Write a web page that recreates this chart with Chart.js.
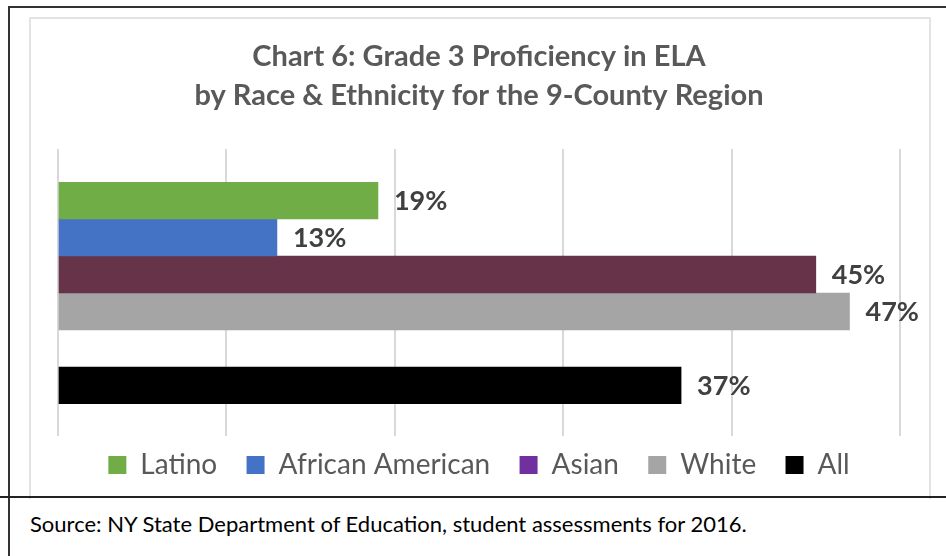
<!DOCTYPE html>
<html>
<head>
<meta charset="utf-8">
<script src="https://cdn.jsdelivr.net/npm/chart.js@4.4.1/dist/chart.umd.min.js"></script>
<style>
  html, body { margin: 0; padding: 0; background: #fff; }
  body { width: 946px; height: 556px; position: relative; overflow: hidden; }
  .frame-top { position: absolute; left: 8px; top: 6px; width: 938px; height: 0; border-top: 2px solid #333; }
  .frame-left { position: absolute; left: 8px; top: 6px; width: 0; height: 550px; border-left: 2px solid #333; }
  .frame-sep { position: absolute; left: 0; top: 496px; width: 946px; height: 0; border-top: 2px solid #222; }
  .chart-box { position: absolute; left: 29px; top: 17px; width: 898px; height: 480px; border: 2px solid #e3e3e3; border-bottom: none; }
  #chart { position: absolute; left: 0; top: 0; }
  .source { position: absolute; left: 30px; top: 510px; font-family: Lato, sans-serif; font-size: 22px; color: #000; }
</style>
</head>
<body>
<div class="frame-top"></div>
<div class="frame-left"></div>
<div class="chart-box"></div>
<canvas id="chart" width="946" height="497"></canvas>
<div class="frame-sep"></div>
<div class="source">Source: NY State Department of Education, student assessments for 2016.</div>
<script>
// rows on the category axis ('' is the blank row between the groups and "All")
const rows = ['Latino', 'African American', 'Asian', 'White', '', 'All'];
const groups = ['Latino', 'African American', 'Asian', 'White', 'All'];
const proficiency = [19, 13, 45, 47, 37];
const titleLines = ['Chart 6: Grade 3 Proficiency in ELA', 'by Race & Ethnicity for the 9-County Region'];
const xTicks = [0, 10, 20, 30, 40, 50];

const barColors = ['#70AD47', '#4472C4', '#663349', '#A5A5A5', '#000000'];
const legendColors = ['#70AD47', '#4472C4', '#7030A0', '#A5A5A5', '#000000'];

// percent labels to the right of each bar
const valueLabels = {
    id: 'valueLabels',
    afterDatasetsDraw(chart) {
        const ctx = chart.ctx;
        ctx.save();
        ctx.font = 'bold 27px Lato';
        ctx.fillStyle = '#404040';
        ctx.textBaseline = 'middle';
        chart.data.datasets.forEach((ds, i) => {
            chart.getDatasetMeta(i).data.forEach((bar, j) => {
                const v = ds.data[j];
                if (v == null) return;
                ctx.fillText(v + '%', bar.x + 16, bar.y + 1);
            });
        });
        ctx.restore();
    }
};

const gridOpts = { color: '#d9d9d9', lineWidth: 2 };

new Chart(document.getElementById('chart').getContext('2d'), {
    type: 'bar',
    data: {
        labels: rows,
        datasets: groups.map((g, i) => ({
            label: g,
            data: rows.map(r => (r === g ? proficiency[i] : null)),
            backgroundColor: barColors[i],
            categoryPercentage: 1,
            barPercentage: 1
        }))
    },
    options: {
        indexAxis: 'y',
        responsive: false,
        animation: false,
        layout: { padding: { left: 58, right: 46, top: 0, bottom: 8 } },
        scales: {
            y: { display: false, stacked: true },
            x: {
                min: xTicks[0],
                max: xTicks[xTicks.length - 1],
                afterBuildTicks: s => { s.ticks = xTicks.map(v => ({ value: v })); },
                ticks: { display: false },
                border: { display: false },
                grid: Object.assign({ drawTicks: true, tickLength: 32 }, gridOpts)
            },
            x2: {
                type: 'linear',
                axis: 'x',
                position: 'top',
                min: xTicks[0],
                max: xTicks[xTicks.length - 1],
                afterBuildTicks: s => { s.ticks = xTicks.map(v => ({ value: v })); },
                ticks: { display: false },
                border: { display: false },
                grid: Object.assign({ drawOnChartArea: false, drawTicks: true, tickLength: 33 }, gridOpts)
            }
        },
        plugins: {
            title: {
                display: true,
                text: titleLines,
                color: '#595959',
                font: { family: 'Lato', size: 29, weight: 'bold', lineHeight: 1.345 },
                padding: { top: 37, bottom: 34 }
            },
            legend: {
                position: 'bottom',
                labels: {
                    font: { family: 'Lato', size: 28 },
                    color: '#595959',
                    boxWidth: 18,
                    boxHeight: 18,
                    padding: 15,
                    generateLabels: () => groups.map((g, i) => ({
                        text: g + (i < groups.length - 1 ? '  ' : ''),
                        fillStyle: legendColors[i],
                        strokeStyle: legendColors[i],
                        lineWidth: 0,
                        hidden: false,
                        datasetIndex: i,
                        fontColor: '#595959'
                    }))
                }
            },
            tooltip: { enabled: false }
        }
    },
    plugins: [valueLabels]
});
</script>
</body>
</html>
